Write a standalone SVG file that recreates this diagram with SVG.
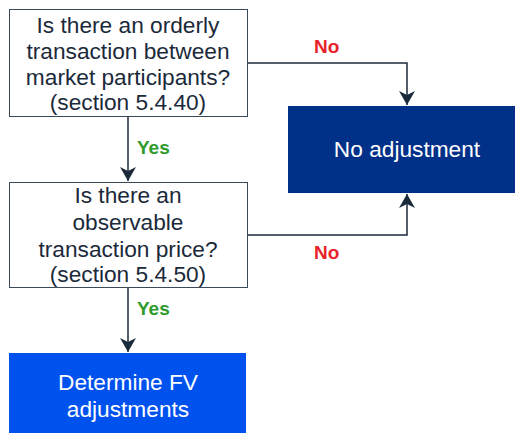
<svg xmlns="http://www.w3.org/2000/svg" width="517" height="433" viewBox="0 0 517 433">
  <style>
    .q { fill: #ffffff; stroke: #3b4a5a; stroke-width: 1; }
    .qt { font-family: "Liberation Sans", Arial, sans-serif; font-size: 22.7px; fill: #1b2a3a; text-anchor: middle; }
    .wt { font-family: "Liberation Sans", Arial, sans-serif; font-size: 22.7px; fill: #ffffff; text-anchor: middle; }
    .edge { fill: none; stroke: #1b2a3a; stroke-width: 1.5; }
    .yes { font-family: "Liberation Sans", Arial, sans-serif; font-size: 19px; font-weight: bold; fill: #2e9b2e; }
    .no { font-family: "Liberation Sans", Arial, sans-serif; font-size: 19px; font-weight: bold; fill: #e8232a; }
  </style>
  <defs>
    <marker id="arrow" viewBox="0 0 14 16" refX="14" refY="8" markerWidth="14" markerHeight="16" markerUnits="userSpaceOnUse" orient="auto">
      <path d="M0,0 L14,8 L0,16 L4,8 Z" fill="#1b2a3a"/>
    </marker>
  </defs>

  <g id="connectors">
    <path class="edge" d="M128,117 V181" marker-end="url(#arrow)"/>
    <path class="edge" d="M247,63 H407 V105" marker-end="url(#arrow)"/>
    <path class="edge" d="M247,235 H407 V194" marker-end="url(#arrow)"/>
    <path class="edge" d="M128,288 V352" marker-end="url(#arrow)"/>
    <text class="yes" x="137" y="154">Yes</text>
    <text class="no" x="314" y="53">No</text>
    <text class="no" x="314" y="259">No</text>
    <text class="yes" x="137" y="315">Yes</text>
  </g>

  <g id="q-orderly">
    <rect class="q" x="9.5" y="9.5" width="238" height="107"/>
    <text class="qt" x="128" y="33">Is there an orderly</text>
    <text class="qt" x="128" y="59">transaction between</text>
    <text class="qt" x="128" y="85">market participants?</text>
    <text class="qt" x="128" y="110">(section 5.4.40)</text>
  </g>

  <g id="q-observable">
    <rect class="q" x="9.5" y="182.5" width="238" height="105"/>
    <text class="qt" x="128" y="203">Is there an</text>
    <text class="qt" x="128" y="230">observable</text>
    <text class="qt" x="128" y="257">transaction price?</text>
    <text class="qt" x="128" y="282">(section 5.4.50)</text>
  </g>

  <g id="no-adjustment">
    <rect x="288" y="106" width="227" height="87" fill="#003087"/>
    <text class="wt" x="407" y="157">No adjustment</text>
  </g>

  <g id="determine-fv">
    <rect x="9" y="353" width="237" height="80" fill="#0052ef"/>
    <text class="wt" x="128" y="390">Determine FV</text>
    <text class="wt" x="128" y="417">adjustments</text>
  </g>
</svg>
